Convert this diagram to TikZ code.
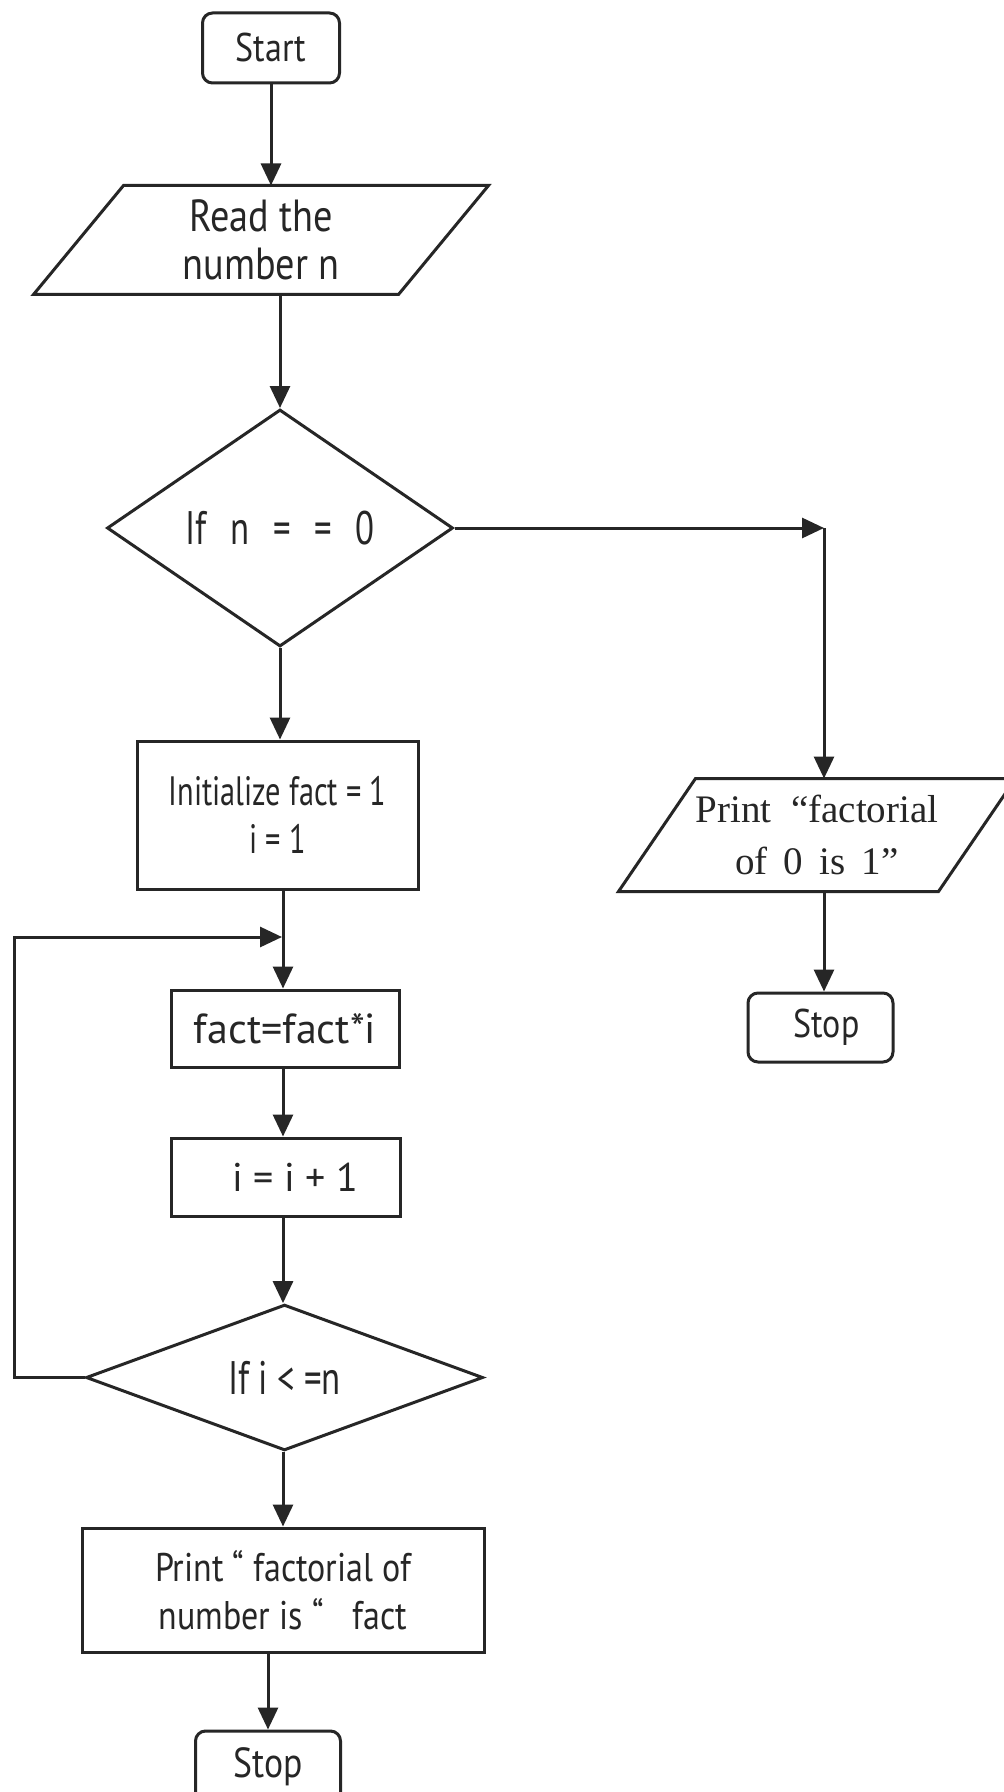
\documentclass[tikz,border=0pt]{standalone}
\usepackage{fontspec}
\setmainfont{PT Sans}
\newfontfamily\csans[FakeStretch=0.85]{PT Sans}
\newfontfamily\nsans[FakeStretch=0.74]{PT Sans}
\newfontfamily\pserif{Liberation Serif}
\usetikzlibrary{shapes.geometric,arrows.meta}
\definecolor{ink}{HTML}{262626}

\begin{document}
\begin{tikzpicture}[x=0.5pt,y=-0.5pt,
  color=ink, line width=1.5pt,
  flow/.style={-{Triangle[length=11pt,width=10pt]}},
  box/.style={draw, rectangle, inner sep=0pt, align=center},
  term/.style={box, rounded corners=5pt},
  decision/.style={draw, diamond, inner sep=0pt, align=center},
  iobox/.style={rectangle, inner sep=0pt, align=center},
  lbl/.style={font=\csans\fontsize{20}{24}\selectfont},
]
\useasboundingbox (0,0) rectangle (1004,1792);
\fill[white] (0,0) rectangle (1004,1792);
\clip (0,0) rectangle (1004,1792);

% main column
\node[term, lbl, minimum width=68.5pt, minimum height=35pt] (start) at (271,48) {Start};
\node[iobox, font=\csans\fontsize{22.5}{24}\selectfont, minimum width=181pt, minimum height=53pt] (read) at (261,240)
   {Read the\\number n};
\draw ([xshift=22.5pt]read.north west) -- ([xshift=22.5pt]read.north east)
   -- ([xshift=-22.5pt]read.south east) -- ([xshift=-22.5pt]read.south west) -- cycle;
\node[decision, font=\nsans\fontsize{23.5}{26}\selectfont, minimum width=173pt, minimum height=118.5pt] (dec1) at (280,528)
   {If\enspace n\enspace =\enspace =\enspace 0};
\node[box, font=\nsans\fontsize{20.5}{24}\selectfont, minimum width=140.5pt, minimum height=74pt] (init) at (277.5,815)
   {Initialize fact = 1\\i = 1};
\node[box, font=\fontsize{21}{24}\selectfont, minimum width=114pt, minimum height=38.5pt] (fact) at (285,1028.5) {fact=fact*i};
\node[box, font=\fontsize{20}{24}\selectfont, minimum width=114.5pt, minimum height=39pt] (inc) at (285.5,1177)
   {\hspace*{10pt}i = i + 1};
\node[decision, font=\nsans\fontsize{23.5}{26}\selectfont, minimum width=198.5pt, minimum height=59.5pt] (dec2) at (284.5,1377.5)
   {If i < =n};
\node[box, lbl, minimum width=201pt, minimum height=62pt] (print) at (283,1590)
   {Print “ factorial of\\number is “\enspace\ fact};
\node[term, font=\csans\fontsize{21}{24}\selectfont, minimum width=72.5pt, minimum height=36pt] (stop2) at (268,1767) {Stop};

% branch for n = 0
\node[iobox, font=\pserif\fontsize{19.5}{26}\selectfont, minimum width=158.5pt, minimum height=55pt] (print0) at (817,835)
   {Print\enspace “factorial\\of\, 0\, is\, 1”};
\draw ([xshift=19.25pt]print0.north west) -- ([xshift=19.25pt]print0.north east)
   -- ([xshift=-19.25pt]print0.south east) -- ([xshift=-19.25pt]print0.south west) -- cycle;
\node[term, lbl, minimum width=72.5pt, minimum height=34.5pt] (stop1) at (820.5,1027.5) {\hspace*{6pt}Stop};

% connectors
\coordinate (spine) at (283,0);
\coordinate (corner) at (824,528);
\coordinate (lp) at (14,0);
\coordinate (lt) at (282,937);

\draw[flow] (start.south) -- (start.south |- read.north);
\draw[flow] (dec1.north |- read.south) -- (dec1.north);
\draw[flow] (dec1.south) -- (dec1.south |- init.north);
\draw[flow] (dec1.east) -- (corner);
\draw[flow] (corner) -- (corner |- print0.north);
\draw[flow] (print0.south -| corner) -- (stop1.north -| corner);
\draw[flow] (init.south -| spine) -- (fact.north -| spine);
\draw[flow] (fact.south -| spine) -- (inc.north -| spine);
\draw[flow] (inc.south -| spine) -- (dec2.north -| spine);
\draw[flow] (dec2.south -| spine) -- (print.north -| spine);
\draw[flow] (print.south -| stop2.north) -- (stop2.north);
\draw[flow] (dec2.west) -- (dec2.west -| lp) -- (lp |- lt) -- (lt);
\end{tikzpicture}
\end{document}
